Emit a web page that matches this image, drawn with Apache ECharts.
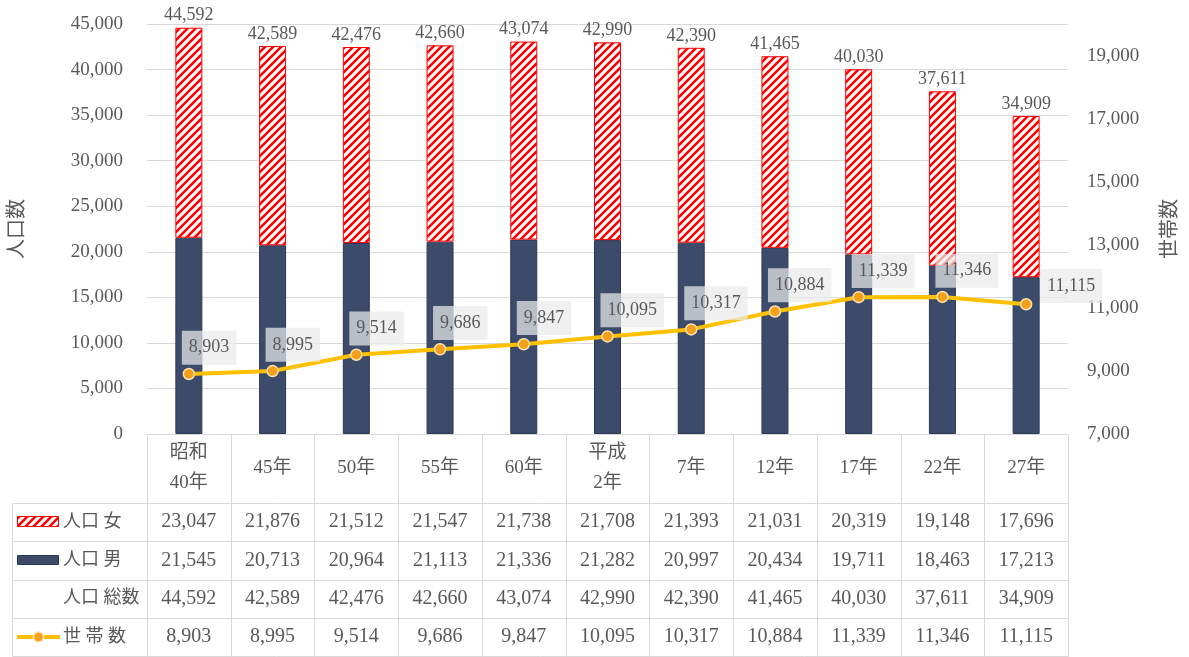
<!DOCTYPE html>
<html>
<head>
<meta charset="utf-8">
<script src="https://cdn.jsdelivr.net/npm/echarts@6/dist/echarts.min.js"></script>
<style>
  html, body { margin: 0; padding: 0; background: #ffffff; }
  #main { width: 1189px; height: 657px; }
</style>
</head>
<body>
<div id="main"></div>
<script>
// 国勢調査年ごとの人口（男女別）と世帯数
const categories = ['昭和\n40年', '45年', '50年', '55年', '60年', '平成\n2年', '7年', '12年', '17年', '22年', '27年'];
const female = [23047, 21876, 21512, 21547, 21738, 21708, 21393, 21031, 20319, 19148, 17696];
const male = [21545, 20713, 20964, 21113, 21336, 21282, 20997, 20434, 19711, 18463, 17213];
const households = [8903, 8995, 9514, 9686, 9847, 10095, 10317, 10884, 11339, 11346, 11115];
const rowLabels = ['人口 女', '人口 男', '人口 総数', '世 帯 数'];
const popAxis = { min: 0, max: 45000, interval: 5000 };
const hhAxis = { min: 7000, max: 20000, interval: 2000 };

const totals = female.map((v, i) => v + male[i]);

const FONT = "'Liberation Serif', 'Noto Sans CJK JP', serif";
const TEXT = '#595959';
const GRID_LINE = '#d9d9d9';
const NAVY = '#3d4b6b';
const NAVY_EDGE = '#2a3856';
const RED = '#ff0000';
const YELLOW = '#ffc000';
const ORANGE = '#f5a01a';

const fmt = v => v.toLocaleString('en-US');

// diagonal red hatch ("/" stripes) used for the female bars and their key
function hatch() {
  const s = 8;
  const c = document.createElement('canvas');
  c.width = s; c.height = s;
  const g = c.getContext('2d');
  g.fillStyle = '#ffffff';
  g.fillRect(0, 0, s, s);
  g.strokeStyle = RED;
  g.lineWidth = 2.6;
  g.lineCap = 'square';
  g.beginPath();
  // lines x + y = 0, s, 2s so the tile repeats seamlessly
  g.moveTo(-s, s); g.lineTo(s, -s);
  g.moveTo(-s / 2, s * 1.5); g.lineTo(s * 1.5, -s / 2);
  g.moveTo(0, s * 2); g.lineTo(s * 2, 0);
  g.stroke();
  return c;
}
const hatchCanvas = hatch();
const hatchFill = () => ({ image: hatchCanvas, repeat: 'repeat' });

const chart = echarts.init(document.getElementById('main'), null, { renderer: 'canvas' });

const lastIdx = households.length - 1;
const hhData = households.map((v, i) =>
  i === lastIdx ? { value: v, label: { offset: [14, 8] } } : v
);

chart.setOption({
  animation: false,
  backgroundColor: '#ffffff',
  textStyle: { fontFamily: FONT },
  grid: { left: 147, right: 120, top: 24, bottom: 223, containLabel: false },
  xAxis: {
    type: 'category',
    data: categories,
    boundaryGap: true,
    axisLine: { show: true, lineStyle: { color: GRID_LINE, width: 1 } },
    axisTick: { show: false },
    axisLabel: { show: false },
    splitLine: { show: false }
  },
  yAxis: [
    {
      type: 'value',
      min: popAxis.min, max: popAxis.max, interval: popAxis.interval,
      name: '人口数',
      nameLocation: 'middle',
      nameRotate: 90,
      nameGap: 119,
      nameTextStyle: { fontFamily: FONT, fontSize: 20, color: TEXT },
      axisLine: { show: false },
      axisTick: { show: false },
      axisLabel: { formatter: v => fmt(v), fontFamily: FONT, fontSize: 19, color: TEXT, margin: 24 },
      splitLine: { show: true, lineStyle: { color: GRID_LINE, width: 1 } }
    },
    {
      type: 'value',
      min: hhAxis.min, max: hhAxis.max, interval: hhAxis.interval,
      position: 'right',
      name: '世帯数',
      nameLocation: 'middle',
      nameRotate: 90,
      nameGap: 93,
      nameTextStyle: { fontFamily: FONT, fontSize: 20, color: TEXT },
      axisLine: { show: false },
      axisTick: { show: false },
      axisLabel: { formatter: v => fmt(v), fontFamily: FONT, fontSize: 19, color: TEXT, margin: 19, showMaxLabel: false },
      splitLine: { show: false }
    }
  ],
  series: [
    {
      name: '人口 男',
      type: 'bar',
      stack: 'pop',
      barWidth: 27,
      data: male,
      itemStyle: { color: NAVY, borderColor: NAVY_EDGE, borderWidth: 1 }
    },
    {
      name: '人口 女',
      type: 'bar',
      stack: 'pop',
      barWidth: 27,
      data: female,
      itemStyle: { color: hatchFill(), borderColor: RED, borderWidth: 1 },
      label: {
        show: true,
        position: 'top',
        distance: 3,
        formatter: p => fmt(totals[p.dataIndex]),
        fontFamily: FONT, fontSize: 18, color: TEXT
      }
    },
    {
      name: '世帯数',
      type: 'line',
      yAxisIndex: 1,
      data: hhData,
      symbol: 'circle',
      symbolSize: 11,
      lineStyle: { color: YELLOW, width: 4 },
      itemStyle: { color: ORANGE, borderColor: '#fde3b0', borderWidth: 1.5 },
      z: 5,
      label: {
        show: true,
        position: 'top',
        align: 'left',
        distance: 3,
        offset: [-7, 0],
        formatter: p => fmt(p.value),
        fontFamily: FONT, fontSize: 18, color: TEXT,
        backgroundColor: 'rgba(234,234,234,0.72)',
        padding: [8, 7, 8, 7]
      }
    }
  ]
});

// data table under the plot, aligned with the category columns
function buildTable() {
  const xs = categories.map((_, i) => chart.convertToPixel({ xAxisIndex: 0 }, i));
  const bw = xs[1] - xs[0];
  const colLeft = xs[0] - bw / 2;
  const colRight = xs[xs.length - 1] + bw / 2;
  const top = Math.round(chart.convertToPixel({ yAxisIndex: 0 }, 0));
  const headerH = 69;
  const rowH = 38.3;
  const tableLeft = 12;
  const rowsTop = top + headerH;
  const rowValues = [female, male, totals, households];
  const els = [];
  const crisp = v => Math.round(v) + 0.5;
  const line = (x1, y1, x2, y2) => els.push({
    type: 'line', silent: true,
    shape: { x1: crisp(x1), y1: crisp(y1), x2: crisp(x2), y2: crisp(y2) },
    style: { stroke: GRID_LINE, lineWidth: 1 }
  });
  const text = (t, x, y, align, size, lh) => els.push({
    type: 'text', silent: true, x: x, y: y,
    style: {
      text: t, fontFamily: FONT, fontSize: size, fill: TEXT,
      align: align, verticalAlign: 'middle', lineHeight: lh || size * 1.2
    }
  });

  const bottom = rowsTop + rowH * rowLabels.length;
  // column rules
  for (let i = 0; i <= categories.length; i++) {
    const x = colLeft + bw * i;
    line(x, top, x, bottom);
  }
  line(tableLeft, rowsTop, tableLeft, bottom);
  // row rules
  for (let r = 0; r <= rowLabels.length; r++) {
    const y = rowsTop + rowH * r;
    line(tableLeft, y, colRight, y);
  }
  // header cells
  categories.forEach((c, i) => text(c, xs[i], top + headerH / 2, 'center', 19, 30));
  // body cells
  rowLabels.forEach((lab, r) => {
    const cy = rowsTop + rowH * r + rowH / 2;
    text(lab, 63, cy, 'left', 18);
    rowValues[r].forEach((v, i) => text(fmt(v), xs[i], cy, 'center', 20));
  });

  // series keys in the label column
  const keyY = r => rowsTop + rowH * r + rowH / 2;
  els.push({
    type: 'rect', silent: true,
    shape: { x: 17.5, y: Math.round(keyY(0)) - 5.5, width: 41, height: 10 },
    style: { fill: hatchFill(), stroke: RED, lineWidth: 1 }
  });
  els.push({
    type: 'rect', silent: true,
    shape: { x: 17.5, y: Math.round(keyY(1)) - 4.5, width: 41, height: 9 },
    style: { fill: NAVY, stroke: NAVY_EDGE, lineWidth: 1 }
  });
  els.push({
    type: 'line', silent: true,
    shape: { x1: 17, y1: keyY(3), x2: 60, y2: keyY(3) },
    style: { stroke: YELLOW, lineWidth: 4 }
  });
  els.push({
    type: 'circle', silent: true,
    shape: { cx: 38.5, cy: keyY(3), r: 5 },
    style: { fill: ORANGE, stroke: '#fde3b0', lineWidth: 1.5 }
  });

  chart.setOption({ graphic: { elements: els } });
}
buildTable();
</script>
</body>
</html>
